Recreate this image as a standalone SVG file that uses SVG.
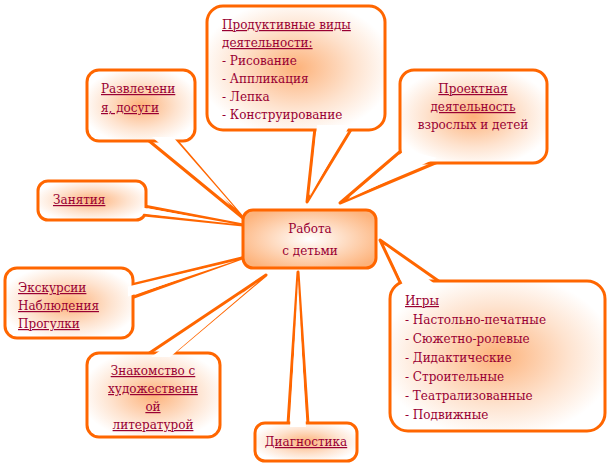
<svg xmlns="http://www.w3.org/2000/svg" width="608" height="469" viewBox="0 0 608 469">
<defs>
<radialGradient id="g" cx="50%" cy="50%" r="55%"><stop offset="0" stop-color="#FDB27A"/><stop offset="0.6" stop-color="#FEE3CF"/><stop offset="1" stop-color="#FFFFFF"/></radialGradient>
<radialGradient id="gc" cx="50%" cy="50%" r="60%"><stop offset="0" stop-color="#FFFFFF"/><stop offset="1" stop-color="#FDB27A"/></radialGradient>
</defs>
<style>
.s{stroke:#FF6600;stroke-width:3;fill:url(#g);stroke-linejoin:round}
.t{stroke:#FF6600;stroke-width:3;fill:#fff;stroke-linejoin:round}
.f{fill:#fff;stroke:none}
text{font-family:"DejaVu Serif","Liberation Serif",serif;font-size:12px;fill:#990033}
.u{text-decoration:underline}
</style>
<rect width="608" height="469" fill="#fff"/>
<g id="connectors">
<polygon class="t" points="315,128 352,128 307,202"/>
<polygon class="t" points="148,140 176,140 243,218"/>
<polygon class="t" points="144,206 144,215 243,225"/>
<polygon class="t" points="402,150 440,161 340,203"/>
<polygon class="t" points="131,285 131,298 242,258"/>
<polygon class="t" points="148,354 172,354 266,275"/>
<polygon class="t" points="288,424 308,424 298,272"/>
<polygon class="t" points="400,282 440,282 380,240"/>
</g>
<g id="n1"><rect class="s" x="207" y="6" width="178" height="124" rx="16"/><polygon class="f" points="317,125 350,125 310,196"/>
<text x="222" y="29" class="u">Продуктивные виды</text><text x="222" y="47" class="u">деятельности:</text><text x="222" y="65">- Рисование</text><text x="222" y="83">- Аппликация</text><text x="222" y="101">- Лепка</text><text x="222" y="119">- Конструирование</text></g>
<g id="n2"><rect class="s" x="87" y="70" width="108" height="71" rx="12"/><polygon class="f" points="152,137 173,137 235,208"/>
<text x="101" y="93" class="u">Развлечени</text><text x="101" y="112" class="u">я, досуги</text></g>
<g id="n3"><rect class="s" x="38" y="181" width="108" height="39" rx="10"/><polygon class="f" points="142,207.5 142,213.5 235,224"/>
<text x="53" y="204" class="u">Занятия</text></g>
<g id="n4"><rect class="s" x="400" y="70" width="147" height="93" rx="14"/><polygon class="f" points="405,150 437,158 348,199"/>
<text x="473" y="93" text-anchor="middle" class="u">Проектная</text><text x="473" y="111" text-anchor="middle" class="u">деятельность</text><text x="473" y="129" text-anchor="middle">взрослых и детей</text></g>
<g id="n5"><rect x="243" y="210" width="133" height="58" rx="10" fill="url(#gc)" stroke="#FF6600" stroke-width="3"/>
<text x="310" y="233" text-anchor="middle">Работа</text><text x="310" y="255" text-anchor="middle">с детьми</text></g>
<g id="n6"><rect class="s" x="5" y="268" width="128" height="70" rx="12"/><polygon class="f" points="128,286.5 128,296.5 235,261"/>
<text x="18" y="292" class="u">Экскурсии</text><text x="18" y="310" class="u">Наблюдения</text><text x="18" y="328" class="u">Прогулки</text></g>
<g id="n7"><rect class="s" x="87" y="353" width="133" height="84" rx="12"/><polygon class="f" points="151,357 170,357 258,282"/>
<text x="153" y="375" text-anchor="middle" class="u">Знакомство с</text><text x="153" y="393" text-anchor="middle" class="u">художественн</text><text x="153" y="411" text-anchor="middle" class="u">ой</text><text x="153" y="429" text-anchor="middle" class="u">литературой</text></g>
<g id="n8"><rect class="s" x="255" y="423" width="102" height="38" rx="10"/><polygon class="f" points="290,427 306,427 298,280"/>
<text x="306" y="446" text-anchor="middle" class="u">Диагностика</text></g>
<g id="n9"><rect class="s" x="390" y="281" width="215" height="150" rx="18"/><polygon class="f" points="403,285 436,285 386,246"/>
<text x="405" y="305" class="u">Игры</text><text x="405" y="324">- Настольно-печатные</text><text x="405" y="343">- Сюжетно-ролевые</text><text x="405" y="362">- Дидактические</text><text x="405" y="381">- Строительные</text><text x="405" y="400">- Театрализованные</text><text x="405" y="419">- Подвижные</text></g>
</svg>
